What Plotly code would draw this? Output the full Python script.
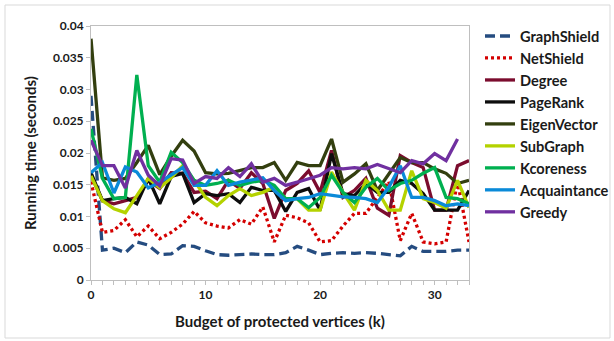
import plotly.graph_objects as go

k = list(range(34))

graphshield = [0.029, 0.0047, 0.005, 0.0043, 0.006, 0.0055, 0.004, 0.0041, 0.0054, 0.0053, 0.0046,
               0.004, 0.0039, 0.004, 0.0041, 0.004, 0.004, 0.0043, 0.0053, 0.0047, 0.004, 0.0042,
               0.0043, 0.0042, 0.0043, 0.0042, 0.004, 0.0038, 0.0053, 0.0045, 0.0045, 0.0045, 0.0047, 0.0047]
netshield = [0.0155, 0.0075, 0.0078, 0.0095, 0.0068, 0.0085, 0.0065, 0.0075, 0.0088, 0.0108, 0.009,
             0.0085, 0.0082, 0.0095, 0.0088, 0.0115, 0.006, 0.0102, 0.0098, 0.009, 0.006, 0.0062,
             0.0085, 0.0105, 0.0105, 0.013, 0.0155, 0.0062, 0.0105, 0.006, 0.0057, 0.006, 0.0155, 0.006]
degree = [0.0165, 0.0125, 0.012, 0.0125, 0.013, 0.0157, 0.0144, 0.0169, 0.0168, 0.0138, 0.014,
          0.0128, 0.0157, 0.0144, 0.0169, 0.0152, 0.0097, 0.0141, 0.0152, 0.0172, 0.0138, 0.0204,
          0.013, 0.0141, 0.016, 0.0113, 0.0102, 0.0196, 0.0185, 0.0177, 0.011, 0.011, 0.018, 0.0188]
pagerank = [0.0169, 0.0125, 0.0128, 0.013, 0.012, 0.016, 0.012, 0.0163, 0.0168, 0.0122, 0.0136,
            0.0133, 0.0136, 0.0122, 0.0146, 0.0141, 0.0141, 0.0108, 0.0138, 0.0144, 0.011, 0.0199,
            0.0136, 0.0133, 0.0152, 0.0138, 0.0138, 0.0157, 0.0152, 0.0136, 0.011, 0.011, 0.011, 0.0141]
eigenvector = [0.038, 0.0161, 0.0157, 0.016, 0.0185, 0.0212, 0.0166, 0.0195, 0.022, 0.0203, 0.0169,
               0.0167, 0.0168, 0.0172, 0.0177, 0.0177, 0.0185, 0.0157, 0.0185, 0.018, 0.018, 0.0222,
               0.0154, 0.0167, 0.0183, 0.0141, 0.0168, 0.0193, 0.0185, 0.0185, 0.0175, 0.0168, 0.0152, 0.0157]
subgraph = [0.0164, 0.0125, 0.0112, 0.0106, 0.0133, 0.016, 0.0145, 0.0161, 0.018, 0.0157, 0.013,
            0.0117, 0.0133, 0.0144, 0.0133, 0.0138, 0.0146, 0.0128, 0.0128, 0.011, 0.011, 0.017,
            0.0138, 0.011, 0.0157, 0.0141, 0.011, 0.011, 0.0172, 0.0128, 0.0122, 0.0113, 0.0157, 0.0114]
kcoreness = [0.0238, 0.016, 0.0128, 0.013, 0.0323, 0.018, 0.0154, 0.0201, 0.0185, 0.0157, 0.0149,
             0.0152, 0.0157, 0.0149, 0.0154, 0.0157, 0.0149, 0.0128, 0.0128, 0.0114, 0.013, 0.0165,
             0.0138, 0.0122, 0.0146, 0.016, 0.0141, 0.0152, 0.0157, 0.0168, 0.0177, 0.013, 0.0128, 0.012]
acquaintance = [0.0169, 0.0185, 0.0137, 0.0178, 0.017, 0.0145, 0.0154, 0.0165, 0.0177, 0.0149, 0.0149,
                0.0172, 0.0149, 0.0154, 0.0157, 0.0161, 0.0141, 0.0125, 0.0128, 0.013, 0.0136, 0.0133,
                0.0131, 0.013, 0.0128, 0.0122, 0.0146, 0.018, 0.013, 0.013, 0.0125, 0.0117, 0.012, 0.0117]
greedy = [0.022, 0.018, 0.018, 0.0145, 0.0204, 0.0165, 0.0148, 0.0191, 0.0189, 0.0152, 0.0163,
          0.016, 0.0177, 0.0163, 0.0183, 0.0154, 0.016, 0.0149, 0.0154, 0.016, 0.0165, 0.0177,
          0.0175, 0.0177, 0.0175, 0.0182, 0.0175, 0.0169, 0.0188, 0.0183, 0.0199, 0.0188, 0.0222, None]

series = [
    ("GraphShield", graphshield, "#254C80", "10px,5px"),
    ("NetShield", netshield, "#D40000", "3px,3px"),
    ("Degree", degree, "#7B0C2E", "solid"),
    ("PageRank", pagerank, "#0D0D0D", "solid"),
    ("EigenVector", eigenvector, "#333F0F", "solid"),
    ("SubGraph", subgraph, "#B4D200", "solid"),
    ("Kcoreness", kcoreness, "#00B050", "solid"),
    ("Acquaintance", acquaintance, "#0A8AD8", "solid"),
    ("Greedy", greedy, "#7030A0", "solid"),
]

fig = go.Figure()
for name, vals, color, dash in series:
    fig.add_trace(go.Scatter(x=k, y=vals, mode="lines", name=name, legendgroup=name,
                             line=dict(color=color, width=3.3, dash=dash)))

FONT = "Lato"
L, R, T, B = 91, 145, 26, 61
W, H = 614, 341
pw = W - L - R
ph = H - T - B

fig.update_layout(
    width=W, height=H,
    margin=dict(l=L, r=R, t=T, b=B),
    paper_bgcolor="white", plot_bgcolor="white",
    font=dict(family=FONT, color="#1A1A1A", size=12, weight="bold"),
    showlegend=True,
    legend=dict(xref="container", yref="container", x=480 / W, y=1 - 20 / H,
                xanchor="left", yanchor="top",
                font=dict(family=FONT, size=14.6, weight="bold", color="#1A1A1A"),
                tracegroupgap=0, bgcolor="rgba(0,0,0,0)", maxheight=330),
    xaxis=dict(range=[0, 33], tick0=0, dtick=10, ticks="outside", ticklen=4,
               tickcolor="#BFBFBF", showline=True, linecolor="#BFBFBF", linewidth=1,
               mirror=True, showgrid=False, zeroline=False, automargin=False,
               minor=dict(dtick=1, ticks="outside", ticklen=4, tickcolor="#BFBFBF", showgrid=False),
               tickfont=dict(family=FONT, size=12, weight="bold")),
    yaxis=dict(range=[0, 0.04], dtick=0.005, ticks="outside", ticklen=4,
               tickcolor="#BFBFBF", showline=True, linecolor="#BFBFBF", linewidth=1,
               mirror=True, showgrid=False, zeroline=False, automargin=False,
               tickfont=dict(family=FONT, size=12, weight="bold")),
)

# axis titles
fig.add_annotation(text="Budget of protected vertices (k)", xref="paper", yref="paper",
                   x=0.5, y=-(321 - (H - B)) / ph, xanchor="center", yanchor="middle",
                   showarrow=False, font=dict(family=FONT, size=15, weight="bold", color="#1A1A1A"))
fig.add_annotation(text="Running time (seconds)", xref="paper", yref="paper",
                   x=(30 - L) / pw, y=0.5, xanchor="center", yanchor="middle", textangle=-90,
                   showarrow=False, font=dict(family=FONT, size=15, weight="bold", color="#1A1A1A"))

# outer chart border
fig.add_shape(type="rect", xref="paper", yref="paper",
              x0=(5 - L) / pw, x1=(610 - L) / pw, y0=(H - B - 338) / ph, y1=(H - B - 5) / ph,
              line=dict(color="#D9D9D9", width=1), fillcolor="rgba(0,0,0,0)", layer="below")

fig.write_html("out.html", config={"displayModeBar": False},
               post_script="document.body.style.margin='0';document.body.style.padding='0';")
